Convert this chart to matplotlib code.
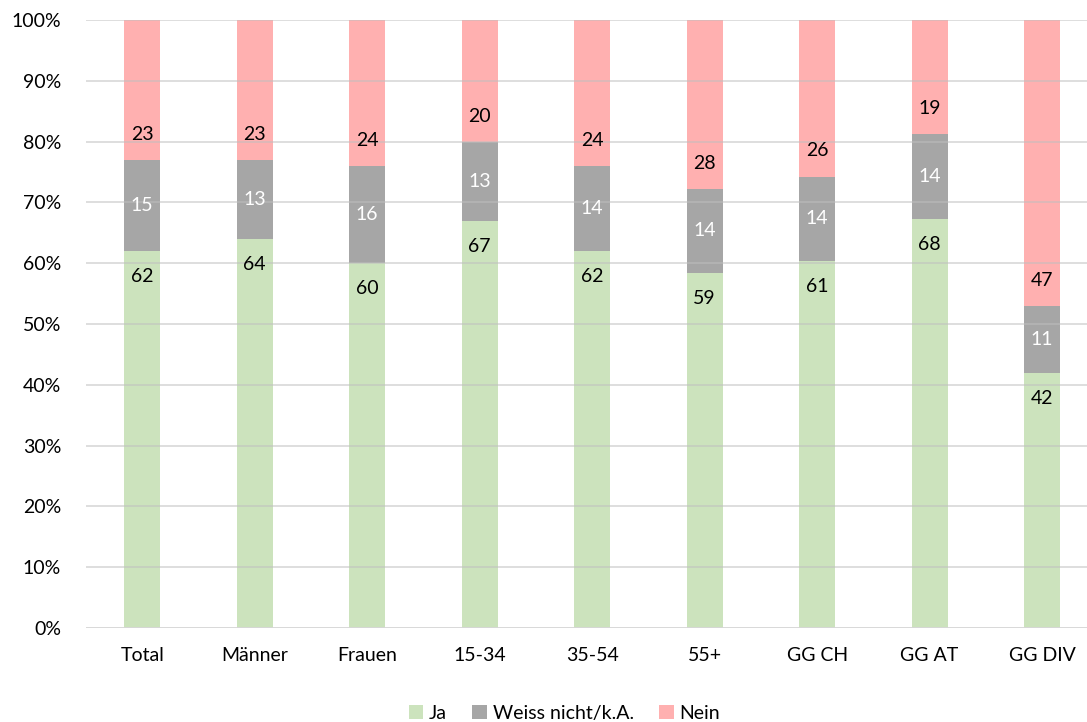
import numpy as np
from matplotlib import pyplot as plt
from matplotlib.ticker import PercentFormatter

categories = ['Total', 'Männer', 'Frauen', '15-34', '35-54', '55+', 'GG CH', 'GG AT', 'GG DIV']
ja = [62, 64, 60, 67, 62, 59, 61, 68, 42]
weiss = [15, 13, 16, 13, 14, 14, 14, 14, 11]
nein = [23, 23, 24, 20, 24, 28, 26, 19, 47]

plt.rcParams['font.family'] = ['Lato', 'DejaVu Sans']

ja_arr = np.array(ja, dtype=float)
weiss_arr = np.array(weiss, dtype=float)
nein_arr = np.array(nein, dtype=float)
total = ja_arr + weiss_arr + nein_arr
# normalise to 100 % stacked
ja_p = ja_arr / total * 100
weiss_p = weiss_arr / total * 100
nein_p = nein_arr / total * 100

fig = plt.figure(figsize=(10.87, 7.22), dpi=100)
ax = fig.add_axes([86 / 1087, 94 / 722, 1001 / 1087, 608 / 722])

x = np.arange(len(categories))
w = 0.32
c_ja, c_weiss, c_nein = '#cce3bd', '#a6a6a6', '#ffb0b0'
ax.bar(x, ja_p, w, color=c_ja, label='Ja', zorder=2)
ax.bar(x, weiss_p, w, bottom=ja_p, color=c_weiss, label='Weiss nicht/k.A.', zorder=2)
ax.bar(x, nein_p, w, bottom=ja_p + weiss_p, color=c_nein, label='Nein', zorder=2)

fs = 14
for i in range(len(categories)):
    ax.text(x[i], ja_p[i] - 4.2, str(ja[i]), ha='center', va='center', fontsize=fs, color='black', zorder=4)
    ax.text(x[i], ja_p[i] + weiss_p[i] / 2, str(weiss[i]), ha='center', va='center', fontsize=fs, color='white', zorder=4)
    ax.text(x[i], ja_p[i] + weiss_p[i] + 4.2, str(nein[i]), ha='center', va='center', fontsize=fs, color='black', zorder=4)

ax.set_ylim(0, 100)
ax.set_xlim(-0.5, 8.4)
ax.set_yticks(np.arange(0, 101, 10))
ax.yaxis.set_major_formatter(PercentFormatter(decimals=0))
ax.set_xticks(x)
ax.set_xticklabels(categories)
ax.tick_params(axis='both', length=0, labelsize=fs, colors='#000000')
ax.tick_params(axis='y', pad=18)
ax.tick_params(axis='x', pad=14)
ax.yaxis.grid(True, color='#bfbfbf', linewidth=1.2, alpha=0.6, zorder=3)
ax.set_axisbelow(False)
for s in ax.spines.values():
    s.set_visible(False)
ax.axhline(0, color='#d9d9d9', linewidth=1.2, zorder=3)

ax.legend(loc='lower center', bbox_to_anchor=(0.478, -0.183), ncol=3, frameon=False,
          fontsize=fs, handlelength=0.75, handleheight=0.75, handletextpad=0.3, columnspacing=1.3)

fig.savefig('out.png', dpi=100)
